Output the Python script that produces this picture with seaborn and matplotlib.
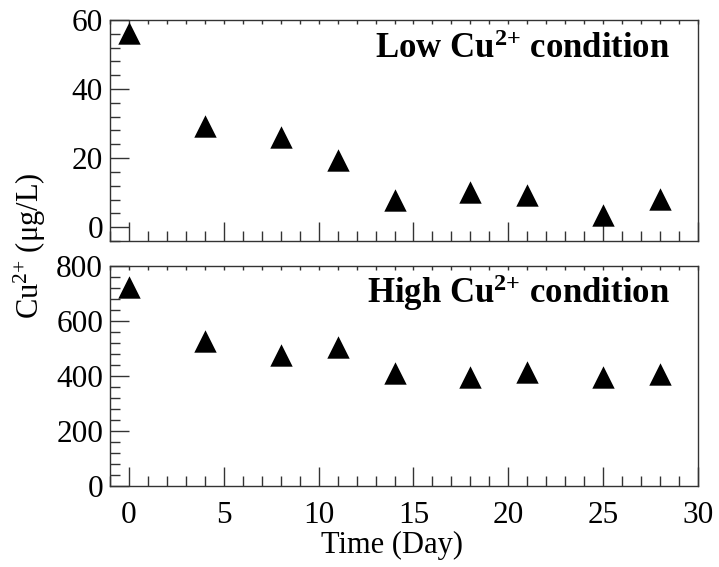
import matplotlib
matplotlib.use("Agg")
import matplotlib.pyplot as plt
import seaborn as sns
import pandas as pd
from matplotlib.ticker import MultipleLocator

days = [0, 4, 8, 11, 14, 18, 21, 25, 28]
low_cu = [56.2, 29.3, 26.0, 19.4, 7.8, 10.1, 9.3, 3.5, 8.1]
high_cu = [722, 527, 478, 506, 411, 397, 416, 396, 409]

sns.set_style("ticks")
plt.rcParams["font.family"] = ["Liberation Serif", "DejaVu Serif"]
plt.rcParams["mathtext.fontset"] = "custom"
plt.rcParams["mathtext.rm"] = "Liberation Serif"
plt.rcParams["mathtext.it"] = "Liberation Serif:italic"
plt.rcParams["mathtext.bf"] = "Liberation Serif:bold"
plt.rcParams["text.color"] = "black"
plt.rcParams["axes.labelcolor"] = "black"
plt.rcParams["xtick.labelcolor"] = "black"
plt.rcParams["ytick.labelcolor"] = "black"

df = pd.DataFrame({"day": days, "low": low_cu, "high": high_cu})

fig = plt.figure(figsize=(7.19, 5.67), dpi=100)
W, H = 719, 567
def rect(l, t, r, b):
    return [l / W, 1 - b / H, (r - l) / W, (b - t) / H]

ax1 = fig.add_axes(rect(110, 20, 698, 241))
ax2 = fig.add_axes(rect(110, 266, 698, 486))

spine_c = "#333333"
for ax, col, ylim, ymaj, ymin, label in [
    (ax1, "low", (-4, 60), 20, 4, r"Low Cu$^{\mathbf{2{+}}}$ condition"),
    (ax2, "high", (0, 800), 200, 40, r"High Cu$^{\mathbf{2{+}}}$ condition"),
]:
    sns.scatterplot(data=df, x="day", y=col, ax=ax, marker="^", s=260,
                    color="black", edgecolor="black", linewidth=0, zorder=3)
    ax.set_xlim(-1, 30)
    ax.set_ylim(*ylim)
    ax.xaxis.set_major_locator(MultipleLocator(5))
    ax.xaxis.set_minor_locator(MultipleLocator(1))
    ax.yaxis.set_major_locator(MultipleLocator(ymaj))
    ax.yaxis.set_minor_locator(MultipleLocator(ymin))
    ax.tick_params(which="both", direction="in", top=True, right=False,
                   color=spine_c, width=1.0, labelsize=22.5, labelcolor="black")
    ax.tick_params(axis="y", pad=5)
    ax.tick_params(axis="x", pad=11)
    ax.tick_params(which="major", length=14)
    ax.tick_params(which="minor", length=7)
    for t in ax.xaxis.get_major_ticks() + ax.xaxis.get_minor_ticks():
        t.tick2line.set_markersize(3)
    for s in ax.spines.values():
        s.set_color(spine_c)
        s.set_linewidth(1.0)
    ax.set_xlabel("")
    ax.set_ylabel("")
    ax.text(0.952, 0.83, label, transform=ax.transAxes, ha="right",
            va="baseline", fontsize=25, fontweight="bold", color="black")

ax1.tick_params(axis="x", labelbottom=False)
ax1.set_yticks([0, 20, 40, 60])
ax2.set_xticks([0, 5, 10, 15, 20, 25, 30])

fig.text(392 / W, 1 - 553 / H, "Time (Day)", ha="center", va="baseline",
         fontsize=22, color="black")
fig.text(30 / W, 1 - 246 / H, "Cu$^{2{+}}$ (μg/L)", ha="center", va="center",
         rotation=90, fontsize=22, color="black")

fig.savefig("out.png", dpi=100)
